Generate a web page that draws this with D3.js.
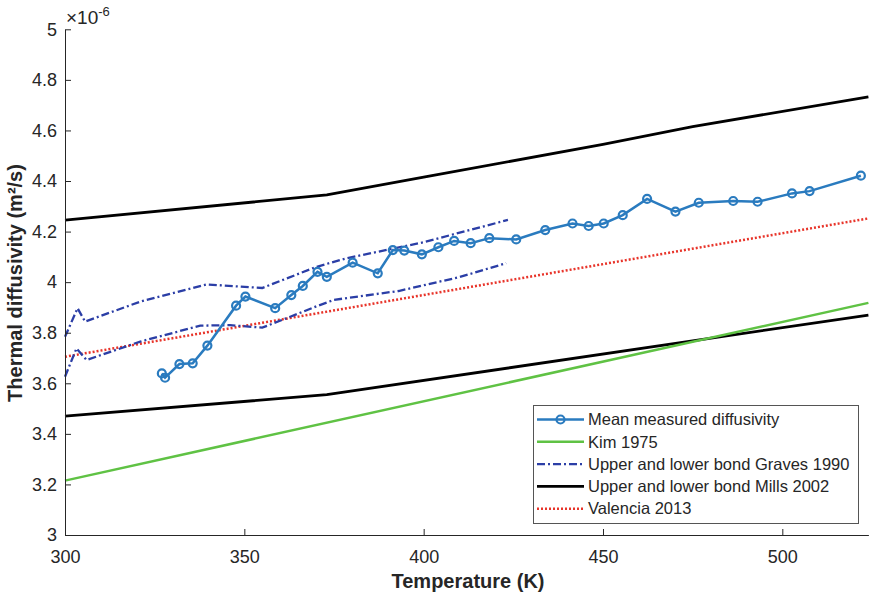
<!DOCTYPE html>
<html>
<head>
<meta charset="utf-8">
<script src="https://cdn.jsdelivr.net/npm/d3@7"></script>
<style>
  body { margin: 0; background: #fff; }
  text { font-family: "Liberation Sans", Arial, sans-serif; fill: #262626; }
</style>
</head>
<body>
<div id="chart"></div>
<script>
// Mean measured diffusivity (x1e-6 m2/s)
var measT = [327, 327.9, 331.9, 335.6, 339.7, 347.7, 350.3, 358.6, 363.1, 366.3, 370.4, 373,
             380.2, 387.2, 391.4, 394.6, 399.5, 404.1, 408.5, 413.1, 418.3, 425.8, 433.9,
             441.5, 446, 450.2, 455.5, 462.3, 470.2, 476.7, 486.3, 493.1, 502.7, 507.6, 521.9];
var measV = [3.639, 3.622, 3.676, 3.679, 3.749, 3.907, 3.943, 3.897, 3.949, 3.985, 4.041, 4.021,
             4.077, 4.035, 4.127, 4.125, 4.11, 4.138, 4.163, 4.154, 4.174, 4.169, 4.206,
             4.232, 4.222, 4.232, 4.265, 4.329, 4.279, 4.314, 4.321, 4.318, 4.351, 4.36, 4.421];

// Kim 1975
var kimT = [300, 524];
var kimV = [3.215, 3.918];

// Graves 1990 upper / lower bounds
var gravesUpT = [300, 303.5, 305.6, 321, 339.5, 355, 370, 378.6, 400, 423.5];
var gravesUpV = [3.784, 3.897, 3.844, 3.923, 3.991, 3.977, 4.06, 4.095, 4.158, 4.246];
var gravesLoT = [300, 303.2, 306, 321, 337.7, 346, 355, 362.8, 370.2, 375, 393, 410, 423];
var gravesLoV = [3.626, 3.738, 3.692, 3.765, 3.828, 3.83, 3.82, 3.863, 3.905, 3.93, 3.965, 4.02, 4.075];

// Mills 2002 upper / lower bounds
var millsUpT = [300, 373, 400, 450, 475, 524];
var millsUpV = [4.245, 4.345, 4.415, 4.545, 4.615, 4.733];
var millsLoT = [300, 373, 524];
var millsLoV = [3.47, 3.555, 3.87];

// Valencia 2013
var valT = [300, 524];
var valV = [3.705, 4.252];

var xTicks = [300, 350, 400, 450, 500];
var yTicks = [3, 3.2, 3.4, 3.6, 3.8, 4, 4.2, 4.4, 4.6, 4.8, 5];

var legendLabels = ["Mean measured diffusivity", "Kim 1975", "Upper and lower bond Graves 1990",
                    "Upper and lower bond Mills 2002", "Valencia 2013"];

var W = 870, H = 596;
var svg = d3.select("#chart").append("svg").attr("width", W).attr("height", H);

var x = d3.scaleLinear().domain([300, 524]).range([65, 868.4]);
var y = d3.scaleLinear().domain([3, 5]).range([535, 29.3]);

function pts(T, V) { return T.map(function(t, i) { return [t, V[i]]; }); }
var line = d3.line().x(function(d) { return x(d[0]); }).y(function(d) { return y(d[1]); });

var styles = {
  blue:   { stroke: "#2a7bbf", width: 2.5, dash: null },
  green:  { stroke: "#5fc244", width: 2.5, dash: null },
  graves: { stroke: "#2b3ea6", width: 2.3, dash: "8,3,2,3" },
  black:  { stroke: "#000", width: 2.8, dash: null },
  red:    { stroke: "#e8342a", width: 2.5, dash: "2,2" }
};

function drawLine(data, s) {
  svg.append("path")
    .datum(data)
    .attr("d", line)
    .attr("fill", "none")
    .attr("stroke", s.stroke)
    .attr("stroke-width", s.width)
    .attr("stroke-dasharray", s.dash);
}

drawLine(pts(millsUpT, millsUpV), styles.black);
drawLine(pts(millsLoT, millsLoV), styles.black);
drawLine(pts(kimT, kimV), styles.green);
drawLine(pts(valT, valV), styles.red);
drawLine(pts(gravesUpT, gravesUpV), styles.graves);
drawLine(pts(gravesLoT, gravesLoV), styles.graves);

var meas = pts(measT, measV);
drawLine(meas, styles.blue);
svg.selectAll(".dot")
  .data(meas)
  .enter().append("circle")
  .attr("class", "dot")
  .attr("cx", function(d) { return x(d[0]); })
  .attr("cy", function(d) { return y(d[1]); })
  .attr("r", 4)
  .attr("fill", "none")
  .attr("stroke", styles.blue.stroke)
  .attr("stroke-width", 2.2);

// axes (ticks pointing inward, like matlab)
var xAxis = d3.axisBottom(x).tickValues(xTicks).tickSizeInner(-6).tickSizeOuter(0).tickPadding(15);
var yAxis = d3.axisLeft(y).tickValues(yTicks).tickSizeInner(-6).tickSizeOuter(0).tickPadding(8)
  .tickFormat(d3.format("~g"));

var gx = svg.append("g").attr("transform", "translate(0,535)").call(xAxis);
var gy = svg.append("g").attr("transform", "translate(65,0)").call(yAxis);
[gx, gy].forEach(function(g) {
  g.select(".domain").attr("stroke", "#262626");
  g.selectAll(".tick line").attr("stroke", "#262626");
  g.selectAll(".tick text")
    .style("font-family", "Liberation Sans, Arial, sans-serif")
    .style("font-size", "18px")
    .attr("fill", "#262626");
});

// exponent label
var ex = svg.append("text").attr("x", 66).attr("y", 24).style("font-size", "19px");
ex.append("tspan").text("\u00d710");
ex.append("tspan").attr("dy", -8).style("font-size", "13px").text("-6");

// axis titles
svg.append("text")
  .attr("x", 468)
  .attr("y", 588)
  .attr("text-anchor", "middle")
  .style("font-size", "20px")
  .style("font-weight", "bold")
  .text("Temperature (K)");

svg.append("text")
  .attr("transform", "translate(22,283) rotate(-90)")
  .attr("text-anchor", "middle")
  .style("font-size", "20px")
  .style("font-weight", "bold")
  .text("Thermal diffusivity (m\u00b2/s)");

// legend
var leg = svg.append("g");
leg.append("rect")
  .attr("x", 533.5).attr("y", 405.5)
  .attr("width", 325).attr("height", 118)
  .attr("fill", "#fff")
  .attr("stroke", "#555")
  .attr("stroke-width", 1);

var legStyles = [styles.blue, styles.green, styles.graves, styles.black, styles.red];
legendLabels.forEach(function(lab, i) {
  var cy = 419.5 + i * 22.3;
  var s = legStyles[i];
  leg.append("line")
    .attr("x1", 537).attr("x2", 584)
    .attr("y1", cy).attr("y2", cy)
    .attr("stroke", s.stroke)
    .attr("stroke-width", s.width)
    .attr("stroke-dasharray", s.dash);
  if (i === 0) {
    leg.append("circle")
      .attr("cx", 560.5).attr("cy", cy).attr("r", 4)
      .attr("fill", "none")
      .attr("stroke", s.stroke)
      .attr("stroke-width", 2.2);
  }
  leg.append("text")
    .attr("x", 588)
    .attr("y", cy)
    .attr("dy", "0.35em")
    .style("font-size", "16.5px")
    .text(lab);
});
</script>
</body>
</html>
